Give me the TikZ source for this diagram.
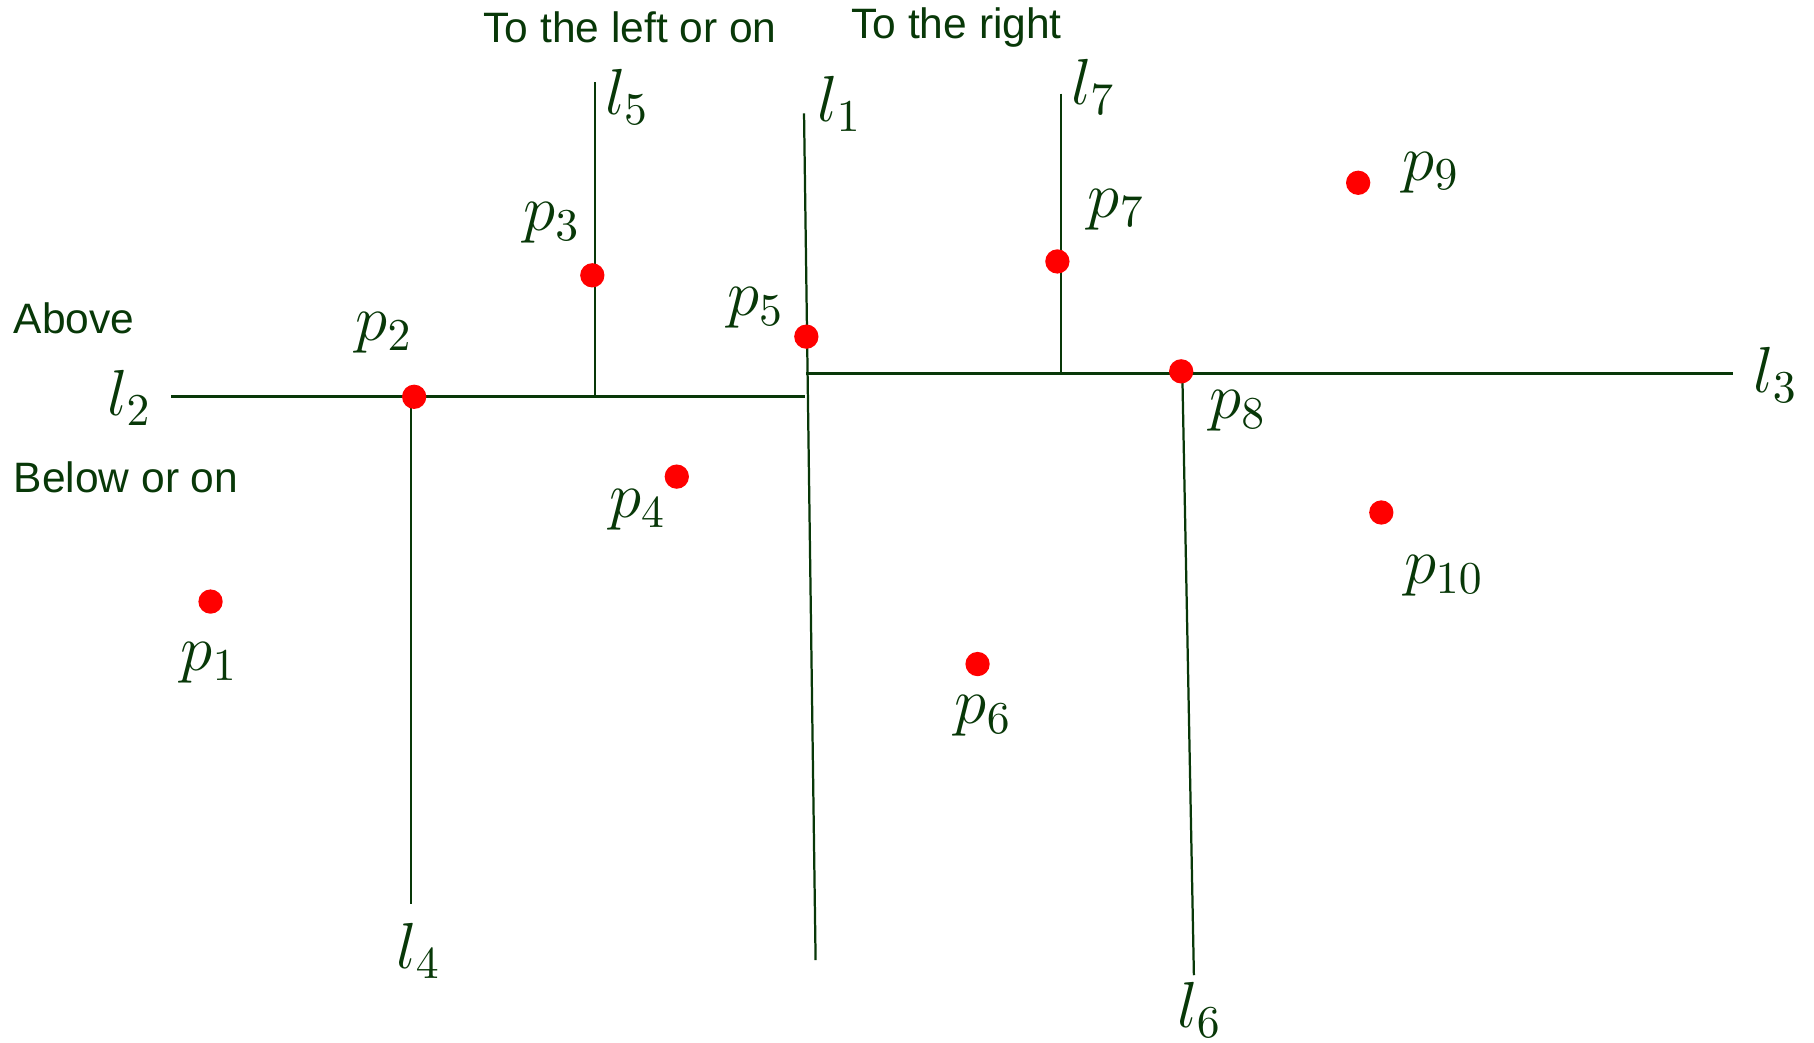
\RequirePackage{fix-cm}
\documentclass[tikz,border=0pt]{standalone}
\usepackage{amsmath,amssymb}
\usepackage{fontspec}
\setmainfont{Liberation Sans}
\usepackage{xcolor}
\usepackage{tikz}
\usetikzlibrary{positioning,calc}
\definecolor{dkgreen}{RGB}{8,56,8}

\begin{document}
\begin{tikzpicture}[x=0.01cm, y=-0.01cm, line width=0.55pt,
    dot/.style={circle, fill=red, inner sep=0pt, minimum size=0.21cm},
    lbl/.style={text=dkgreen, inner sep=0pt, font=\fontsize{16}{19}\selectfont},
    side/.style={text=dkgreen, inner sep=0pt, font=\fontsize{10.45}{12}\selectfont}]
  \useasboundingbox (0,0) rectangle (1568,901);
  % line end points (pixel grid, y downwards)
  \coordinate (l2w) at (148,343);
  \coordinate (l2e) at (696,343);
  \coordinate (l3w) at (697,323);
  \coordinate (l3e) at (1498,323);
  \coordinate (l1n) at (695,98);
  \coordinate (l1s) at (705,830);
  \coordinate (l4s) at (355,781);
  \coordinate (l5n) at (514,71);
  \coordinate (l5s) at (514,343);
  \coordinate (l7n) at (917,81);
  \coordinate (l7s) at (917,324);
  \coordinate (l6s) at (1032,843);
  % the splitting lines
  \draw[dkgreen, line width=0.7pt] (l2w) -- (l2e);
  \draw[dkgreen, line width=0.7pt] (l3w) -- (l3e);
  \draw[dkgreen] (l1n) -- (l1s);
  \draw[dkgreen] (l5n) -- (l5s);
  \draw[dkgreen] (l7n) -- (l7s);
  \draw[dkgreen] (355,343) -- (l4s);
  \draw[dkgreen] (1022,323) -- (l6s);
  % points
  \node[dot] (p1) at (182,520) {};
  \node[dot] (p2) at (358,343) {};
  \node[dot] (p3) at (512,238) {};
  \node[dot] (p4) at (585,412) {};
  \node[dot] (p5) at (697,291) {};
  \node[dot] (p6) at (845,574) {};
  \node[dot] (p7) at (914,226) {};
  \node[dot] (p8) at (1021,321) {};
  \node[dot] (p9) at (1174,158) {};
  \node[dot] (p10) at (1194,443) {};
  % point labels
  \node[lbl] (lp1) at (181,573) {$p_1$};
  \node[lbl] (lp2) at (332,288) {$p_2$};
  \node[lbl] (lp3) at (477,193) {$p_3$};
  \node[lbl] (lp4) at (551,441) {$p_4$};
  \node[lbl] (lp5) at (653,266) {$p_5$};
  \node[lbl] (lp6) at (850,619) {$p_6$};
  \node[lbl] (lp7) at (965,181) {$p_7$};
  \node[lbl] (lp8) at (1070,355) {$p_8$};
  \node[lbl] (lp9) at (1237,149) {$p_9$};
  \node[lbl] (lp10) at (1248,498) {$p_{10}$};
  % line labels
  \node[lbl] (ll1) at (726,90) {$l_1$};
  \node[lbl] (ll2) at (112,344) {$l_2$};
  \node[lbl] (ll3) at (1535,324) {$l_3$};
  \node[lbl] (ll4) at (362,822) {$l_4$};
  \node[lbl] (ll5) at (542,84) {$l_5$};
  \node[lbl] (ll6) at (1037,873) {$l_6$};
  \node[lbl] (ll7) at (945,75) {$l_7$};
  % side captions
  \node[side, anchor=west] (tleft) at (417,24) {To the left or on};
  \node[side, anchor=west] (tright) at (735,24) {To the right};
  \node[side, anchor=west] (above) at (11,275) {Above};
  \node[side, anchor=west] (below) at (11,413) {Below or on};
\end{tikzpicture}
\end{document}
